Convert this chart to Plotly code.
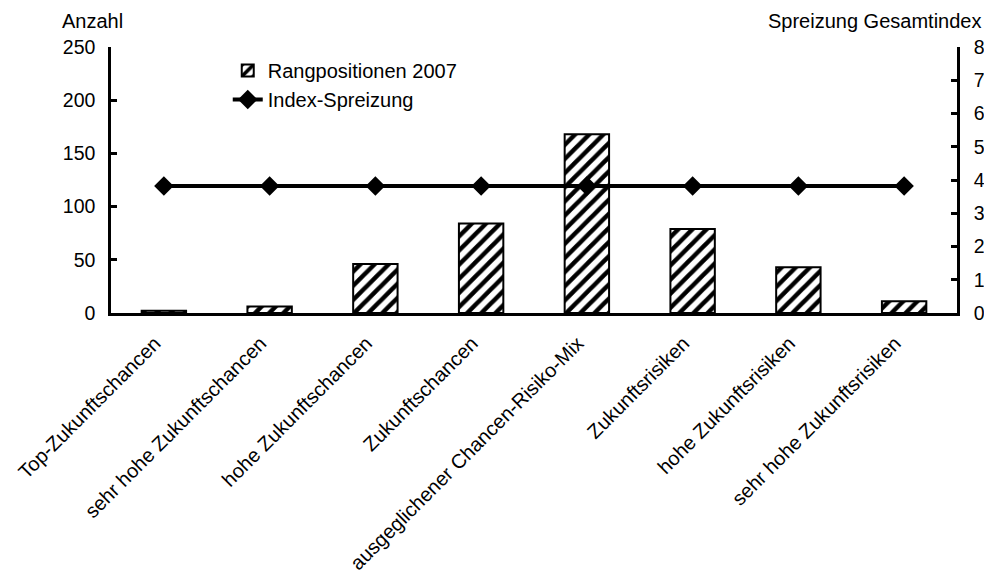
import plotly.graph_objects as go

categories = ["Top-Zukunftschancen", "sehr hohe Zukunftschancen", "hohe Zukunftschancen",
              "Zukunftschancen", "ausgeglichener Chancen-Risiko-Mix", "Zukunftsrisiken",
              "hohe Zukunftsrisiken", "sehr hohe Zukunftsrisiken"]
rangpositionen_2007 = [2, 6, 46, 84, 168, 79, 43, 11]
index_spreizung = [3.82, 3.82, 3.82, 3.82, 3.82, 3.82, 3.82, 3.82]
left_ticks = [0, 50, 100, 150, 200, 250]
right_ticks = [0, 1, 2, 3, 4, 5, 6, 7, 8]

FONT = "Liberation Sans, Arial, sans-serif"

fig = go.Figure()
fig.add_trace(go.Bar(
    x=categories, y=rangpositionen_2007, name="Rangpositionen 2007",
    marker=dict(color="white", line=dict(color="black", width=2),
                pattern=dict(shape="/", fgcolor="black", bgcolor="white", size=10, solidity=0.45)),
    yaxis="y",
))
fig.add_trace(go.Scatter(
    x=categories, y=index_spreizung, name="Index-Spreizung", mode="lines+markers",
    line=dict(color="black", width=4),
    marker=dict(symbol="diamond", size=15, color="black"),
    yaxis="y2",
))

fig.update_layout(
    template="none",
    width=992, height=578,
    margin=dict(l=103, r=43, t=39, b=273, autoexpand=False),
    paper_bgcolor="white", plot_bgcolor="white",
    font=dict(family=FONT, size=20, color="black"),
    bargap=0.58,
    showlegend=True,
    legend=dict(x=0.138, y=0.985, xanchor="left", yanchor="top",
                bgcolor="rgba(0,0,0,0)", borderwidth=0, font=dict(size=20), tracegroupgap=0,
                itemwidth=30),
    xaxis=dict(showline=True, linecolor="black", linewidth=2.5, ticks="", automargin=False,
               tickangle=-45, tickfont=dict(size=20), showgrid=False, zeroline=False,
               ticklabelstandoff=8, ticklabelshift=-9),
    yaxis=dict(range=[0, 250], tickvals=left_ticks, showline=True, linecolor="black", linewidth=2.5,
               ticks="inside", ticklen=6, tickwidth=2.5, tickcolor="black", automargin=False,
               showgrid=False, zeroline=False, tickfont=dict(size=19.5), ticklabelstandoff=9),
    yaxis2=dict(range=[0, 8], tickvals=right_ticks, overlaying="y", side="right",
                showline=True, linecolor="black", linewidth=2.5, automargin=False,
                ticks="inside", ticklen=6, tickwidth=2.5, tickcolor="black",
                showgrid=False, zeroline=False, tickfont=dict(size=19.5), ticklabelstandoff=10),
    annotations=[
        dict(text="Anzahl", xref="paper", yref="paper", x=-0.06, y=1.0, xanchor="left",
             yanchor="bottom", yshift=13, showarrow=False, font=dict(size=20)),
        dict(text="Spreizung Gesamtindex", xref="paper", yref="paper", x=1.031, y=1.0,
             xanchor="right", yanchor="bottom", yshift=13, showarrow=False, font=dict(size=20)),
    ],
)

fig.write_html("out.html")
